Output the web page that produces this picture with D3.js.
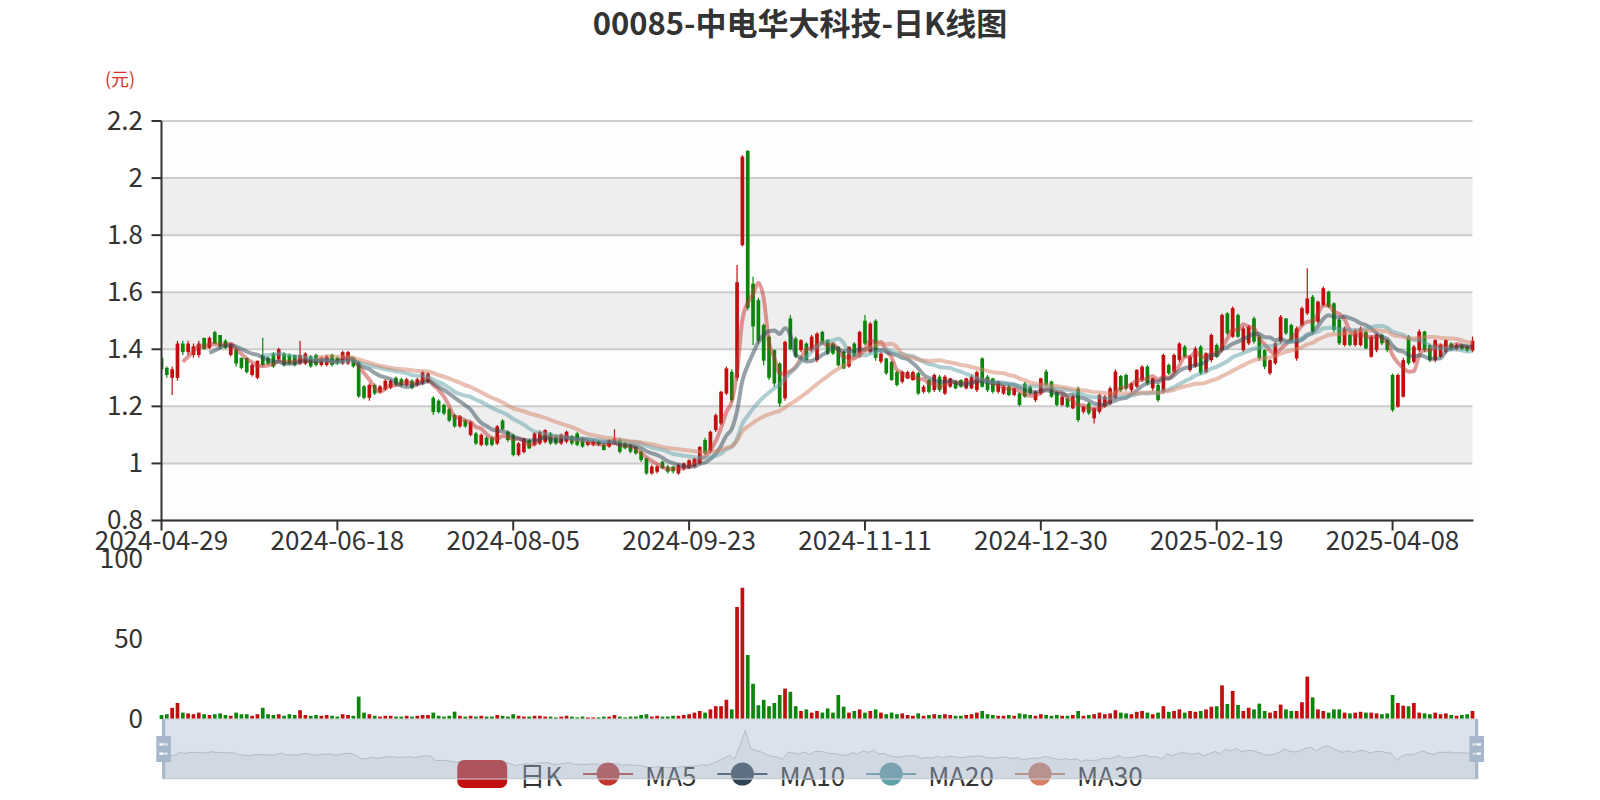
<!DOCTYPE html>
<html><head><meta charset="utf-8">
<script src="https://cdn.jsdelivr.net/npm/d3@7/dist/d3.min.js"></script>
<style>
body{margin:0;background:#fff;}
svg{display:block;font-family:"Noto Sans CJK SC","Noto Sans",sans-serif;}
</style>
</head><body>
<svg id="chart" width="1600" height="800"></svg>
<script>
const titleText = "00085-中电华大科技-日K线图";
const unitText = "(元)";
const dates = [
"2024-04-29","2024-04-30",
"2024-05-02","2024-05-03","2024-05-06","2024-05-07","2024-05-08","2024-05-09","2024-05-10","2024-05-13","2024-05-14","2024-05-16","2024-05-17","2024-05-20","2024-05-21","2024-05-22","2024-05-23","2024-05-24","2024-05-27","2024-05-28","2024-05-29","2024-05-30","2024-05-31",
"2024-06-03","2024-06-04","2024-06-05","2024-06-06","2024-06-07","2024-06-11","2024-06-12","2024-06-13","2024-06-14","2024-06-17","2024-06-18","2024-06-19","2024-06-20","2024-06-21","2024-06-24","2024-06-25","2024-06-26","2024-06-27","2024-06-28",
"2024-07-02","2024-07-03","2024-07-04","2024-07-05","2024-07-08","2024-07-09","2024-07-10","2024-07-11","2024-07-12","2024-07-15","2024-07-16","2024-07-17","2024-07-18","2024-07-19","2024-07-22","2024-07-23","2024-07-24","2024-07-25","2024-07-26","2024-07-29","2024-07-30","2024-07-31",
"2024-08-01","2024-08-02","2024-08-05","2024-08-06","2024-08-07","2024-08-08","2024-08-09","2024-08-12","2024-08-13","2024-08-14","2024-08-15","2024-08-16","2024-08-19","2024-08-20","2024-08-21","2024-08-22","2024-08-23","2024-08-26","2024-08-27","2024-08-28","2024-08-29","2024-08-30",
"2024-09-02","2024-09-03","2024-09-04","2024-09-05","2024-09-09","2024-09-10","2024-09-11","2024-09-12","2024-09-13","2024-09-16","2024-09-17","2024-09-19","2024-09-20","2024-09-23","2024-09-24","2024-09-25","2024-09-26","2024-09-27","2024-09-30",
"2024-10-02","2024-10-03","2024-10-04","2024-10-07","2024-10-08","2024-10-09","2024-10-10","2024-10-14","2024-10-15","2024-10-16","2024-10-17","2024-10-18","2024-10-21","2024-10-22","2024-10-23","2024-10-24","2024-10-25","2024-10-28","2024-10-29","2024-10-30","2024-10-31",
"2024-11-01","2024-11-04","2024-11-05","2024-11-06","2024-11-07","2024-11-08","2024-11-11","2024-11-12","2024-11-13","2024-11-14","2024-11-15","2024-11-18","2024-11-19","2024-11-20","2024-11-21","2024-11-22","2024-11-25","2024-11-26","2024-11-27","2024-11-28","2024-11-29",
"2024-12-02","2024-12-03","2024-12-04","2024-12-05","2024-12-06","2024-12-09","2024-12-10","2024-12-11","2024-12-12","2024-12-13","2024-12-16","2024-12-17","2024-12-18","2024-12-19","2024-12-20","2024-12-23","2024-12-24","2024-12-27","2024-12-30","2024-12-31",
"2025-01-02","2025-01-03","2025-01-06","2025-01-07","2025-01-08","2025-01-09","2025-01-10","2025-01-13","2025-01-14","2025-01-15","2025-01-16","2025-01-17","2025-01-20","2025-01-21","2025-01-22","2025-01-23","2025-01-24","2025-01-27","2025-01-28",
"2025-02-03","2025-02-04","2025-02-05","2025-02-06","2025-02-07","2025-02-10","2025-02-11","2025-02-12","2025-02-13","2025-02-14","2025-02-17","2025-02-18","2025-02-19","2025-02-20","2025-02-21","2025-02-24","2025-02-25","2025-02-26","2025-02-27","2025-02-28",
"2025-03-03","2025-03-04","2025-03-05","2025-03-06","2025-03-07","2025-03-10","2025-03-11","2025-03-12","2025-03-13","2025-03-14","2025-03-17","2025-03-18","2025-03-19","2025-03-20","2025-03-21","2025-03-24","2025-03-25","2025-03-26","2025-03-27","2025-03-28","2025-03-31",
"2025-04-01","2025-04-02","2025-04-03","2025-04-07","2025-04-08","2025-04-09","2025-04-10","2025-04-11","2025-04-14","2025-04-15","2025-04-16","2025-04-17","2025-04-22","2025-04-23","2025-04-24","2025-04-25","2025-04-28","2025-04-29","2025-04-30",
"2025-05-02"
];
// [open, close, low, high]
const ohlc = [
[1.37,1.33,1.32,1.38],[1.335,1.31,1.30,1.34],[1.30,1.33,1.24,1.34],[1.30,1.42,1.29,1.43],[1.42,1.39,1.38,1.43],
[1.39,1.42,1.38,1.43],[1.38,1.41,1.37,1.42],[1.38,1.42,1.37,1.43],[1.44,1.40,1.40,1.44],[1.405,1.44,1.40,1.445],
[1.46,1.42,1.42,1.465],[1.45,1.41,1.40,1.45],[1.43,1.405,1.40,1.435],[1.38,1.42,1.375,1.42],[1.40,1.35,1.34,1.40],
[1.37,1.335,1.33,1.37],[1.37,1.32,1.315,1.37],[1.31,1.345,1.305,1.35],[1.30,1.36,1.295,1.36],[1.38,1.345,1.34,1.44],
[1.37,1.35,1.345,1.375],[1.385,1.34,1.335,1.39],[1.365,1.40,1.36,1.405],[1.385,1.345,1.34,1.39],[1.38,1.35,1.345,1.385],
[1.38,1.345,1.34,1.38],[1.35,1.38,1.345,1.43],[1.35,1.385,1.345,1.39],[1.375,1.34,1.335,1.38],[1.38,1.345,1.34,1.385],
[1.345,1.37,1.34,1.375],[1.345,1.375,1.34,1.38],[1.38,1.345,1.34,1.385],[1.37,1.35,1.345,1.375],[1.35,1.39,1.345,1.395],
[1.35,1.39,1.345,1.395],[1.37,1.34,1.335,1.375],[1.355,1.235,1.23,1.36],[1.27,1.23,1.225,1.275],[1.23,1.275,1.22,1.28],
[1.275,1.245,1.24,1.28],[1.25,1.27,1.245,1.275],[1.26,1.29,1.255,1.295],[1.265,1.29,1.26,1.295],[1.30,1.275,1.27,1.305],
[1.295,1.275,1.27,1.30],[1.275,1.295,1.27,1.30],[1.29,1.265,1.26,1.295],[1.275,1.295,1.27,1.30],[1.28,1.32,1.275,1.325],
[1.285,1.315,1.28,1.32],[1.23,1.18,1.17,1.235],[1.22,1.18,1.175,1.225],[1.205,1.175,1.17,1.21],[1.19,1.15,1.145,1.195],
[1.17,1.13,1.125,1.175],[1.13,1.165,1.125,1.17],[1.15,1.13,1.125,1.155],[1.10,1.145,1.095,1.15],[1.105,1.07,1.065,1.11],
[1.065,1.10,1.06,1.105],[1.09,1.065,1.06,1.095],[1.09,1.065,1.06,1.095],[1.07,1.13,1.065,1.135],[1.15,1.12,1.115,1.155],
[1.11,1.082,1.075,1.115],[1.10,1.03,1.025,1.105],[1.03,1.07,1.025,1.075],[1.04,1.088,1.035,1.09],[1.082,1.053,1.05,1.085],
[1.065,1.105,1.06,1.11],[1.07,1.11,1.065,1.115],[1.075,1.117,1.07,1.12],[1.105,1.07,1.065,1.11],[1.094,1.07,1.065,1.10],
[1.07,1.10,1.065,1.105],[1.076,1.111,1.07,1.115],[1.094,1.07,1.065,1.10],[1.105,1.065,1.06,1.11],[1.088,1.059,1.055,1.09],
[1.065,1.076,1.06,1.08],[1.066,1.077,1.06,1.08],[1.076,1.065,1.06,1.08],[1.065,1.047,1.045,1.07],[1.059,1.082,1.055,1.085],
[1.07,1.088,1.065,1.12],[1.082,1.041,1.035,1.09],[1.07,1.053,1.05,1.075],[1.065,1.041,1.035,1.07],[1.059,1.035,1.03,1.06],
[1.041,1.012,1.005,1.045],[1.018,0.965,0.96,1.02],[0.965,0.989,0.96,0.995],[0.971,0.989,0.965,0.995],[1.006,0.983,0.98,1.01],
[0.989,0.971,0.965,0.995],[0.989,0.972,0.965,0.992],[0.965,0.995,0.96,1.0],[0.982,1.0,0.975,1.003],[0.985,1.011,0.98,1.015],
[0.99,1.017,0.985,1.02],[1.0,1.058,0.995,1.06],[1.082,1.035,1.03,1.09],[1.041,1.111,1.035,1.115],[1.117,1.169,1.11,1.175],
[1.14,1.251,1.135,1.255],[1.245,1.333,1.24,1.34],[1.321,1.222,1.215,1.33],[1.30,1.635,1.29,1.695],[1.765,2.075,1.76,2.08],
[2.095,1.545,1.537,2.098],[1.63,1.48,1.415,1.654],[1.572,1.43,1.42,1.58],[1.485,1.36,1.344,1.49],[1.444,1.30,1.292,1.45],
[1.397,1.28,1.268,1.40],[1.35,1.21,1.198,1.355],[1.228,1.426,1.22,1.43],[1.508,1.40,1.397,1.52],[1.438,1.374,1.37,1.445],
[1.397,1.432,1.39,1.435],[1.42,1.362,1.36,1.425],[1.397,1.444,1.39,1.45],[1.362,1.455,1.355,1.46],[1.461,1.42,1.415,1.465],
[1.432,1.385,1.38,1.435],[1.42,1.385,1.38,1.425],[1.409,1.344,1.34,1.41],[1.391,1.333,1.33,1.395],[1.34,1.409,1.335,1.41],
[1.42,1.374,1.37,1.425],[1.374,1.461,1.37,1.465],[1.50,1.42,1.415,1.52],[1.39,1.49,1.385,1.495],[1.50,1.37,1.36,1.505],
[1.357,1.385,1.35,1.39],[1.368,1.316,1.31,1.37],[1.356,1.292,1.29,1.36],[1.32,1.275,1.27,1.325],[1.286,1.32,1.28,1.325],
[1.298,1.32,1.295,1.325],[1.292,1.32,1.29,1.325],[1.316,1.245,1.24,1.32],[1.251,1.269,1.245,1.275],[1.292,1.251,1.245,1.295],
[1.257,1.31,1.25,1.315],[1.304,1.257,1.25,1.31],[1.245,1.304,1.24,1.31],[1.269,1.298,1.265,1.30],[1.286,1.263,1.26,1.29],
[1.292,1.269,1.265,1.295],[1.263,1.298,1.26,1.30],[1.263,1.304,1.26,1.31],[1.257,1.32,1.25,1.325],[1.368,1.269,1.265,1.372],
[1.304,1.257,1.25,1.31],[1.298,1.251,1.245,1.30],[1.251,1.286,1.245,1.29],[1.245,1.269,1.24,1.275],[1.269,1.24,1.235,1.275],
[1.24,1.263,1.235,1.265],[1.245,1.205,1.20,1.25],[1.28,1.234,1.23,1.285],[1.269,1.246,1.24,1.275],[1.222,1.252,1.215,1.255],
[1.246,1.298,1.24,1.30],[1.322,1.275,1.27,1.33],[1.287,1.234,1.23,1.29],[1.25,1.205,1.20,1.255],[1.205,1.234,1.20,1.24],
[1.228,1.199,1.195,1.23],[1.193,1.234,1.19,1.24],[1.263,1.152,1.145,1.27],[1.181,1.199,1.175,1.20],[1.21,1.176,1.17,1.215],
[1.158,1.193,1.14,1.195],[1.181,1.24,1.175,1.245],[1.199,1.234,1.195,1.24],[1.21,1.263,1.205,1.27],[1.228,1.322,1.225,1.33],
[1.306,1.257,1.25,1.31],[1.31,1.263,1.255,1.315],[1.257,1.28,1.25,1.285],[1.269,1.328,1.265,1.33],[1.292,1.339,1.285,1.345],
[1.339,1.281,1.275,1.345],[1.263,1.298,1.255,1.30],[1.275,1.222,1.215,1.28],[1.251,1.38,1.245,1.385],[1.345,1.316,1.31,1.35],
[1.322,1.38,1.315,1.385],[1.363,1.42,1.355,1.425],[1.409,1.374,1.37,1.415],[1.327,1.374,1.32,1.38],[1.339,1.403,1.335,1.41],
[1.409,1.316,1.31,1.415],[1.32,1.386,1.315,1.39],[1.362,1.45,1.355,1.455],[1.415,1.374,1.37,1.42],[1.397,1.52,1.39,1.525],
[1.526,1.456,1.45,1.53],[1.444,1.544,1.44,1.55],[1.52,1.444,1.44,1.525],[1.397,1.473,1.39,1.48],[1.421,1.479,1.415,1.485],
[1.508,1.427,1.42,1.515],[1.444,1.368,1.36,1.45],[1.397,1.339,1.33,1.40],[1.316,1.362,1.31,1.365],[1.351,1.421,1.345,1.425],
[1.427,1.514,1.42,1.52],[1.508,1.456,1.45,1.51],[1.485,1.432,1.425,1.49],[1.368,1.473,1.36,1.48],[1.485,1.544,1.48,1.55],
[1.526,1.578,1.52,1.684],[1.584,1.462,1.455,1.59],[1.497,1.567,1.49,1.57],[1.555,1.614,1.55,1.62],[1.602,1.549,1.545,1.605],
[1.561,1.468,1.46,1.565],[1.503,1.421,1.415,1.51],[1.415,1.473,1.41,1.48],[1.45,1.415,1.41,1.455],[1.415,1.468,1.41,1.47],
[1.415,1.473,1.41,1.48],[1.462,1.403,1.40,1.465],[1.374,1.444,1.37,1.45],[1.397,1.45,1.39,1.455],[1.45,1.421,1.415,1.455],
[1.432,1.397,1.39,1.435],[1.31,1.187,1.18,1.315],[1.199,1.31,1.195,1.315],[1.234,1.362,1.23,1.37],[1.444,1.351,1.345,1.45],
[1.356,1.409,1.35,1.415],[1.397,1.462,1.39,1.47],[1.462,1.397,1.39,1.465],[1.415,1.362,1.355,1.42],[1.362,1.432,1.355,1.435],
[1.374,1.415,1.37,1.42],[1.392,1.432,1.385,1.435],[1.42,1.40,1.395,1.425],[1.40,1.415,1.395,1.42],[1.415,1.40,1.395,1.42],
[1.41,1.395,1.39,1.415],[1.395,1.43,1.39,1.445]
];
const volumes = [
2.5,3,7,10,4,3.5,3,4,3,2.5,
3,3.5,2.5,2,4,3,3,2,3,7,
3,2.5,3,2,3,2.5,5.5,2.5,2,2.5,
2,2.5,2,1.5,3,2.5,2,14,4,3,
2,1.5,2,2,1.5,1.5,2,1.5,2,2.5,
2.5,4,2,1.5,2,4.6,2,1.5,2,1.5,
2,1.5,1.5,2.5,2,1.5,3,2,1.5,1.5,
2,2,1.5,1.5,1,1.5,2,1.5,1,1.5,
1,1,1,1.5,1.5,2.5,1.5,1,1.5,1.5,
2.5,3,1.5,2,1.5,1.5,2,2,2.5,3,
4,5,4,6,8,8,12,6,70,82,
40,22,8.6,12,8,10,15,19,17,8,
5,6,4,5,4,6.6,4,15,7.7,4,
5,6,4,5,6,4,3,4,3,3.5,
2.5,2,3.5,2,2.5,3,2.5,3,2.5,2,
2,2.5,3,4,5,3,2.5,2,2,2.5,
2,3.5,3,2.5,2,3,2.5,2,2.5,2,
2,2.5,5,2,2.5,3,4,3,3.5,5.5,
4,3.5,3,4.5,5,4,3,4,8,4.5,
5,6,4,5,4.5,5,6,7.7,8,21,
9.4,17.5,8.75,5,7,6,9.6,5,4,5,
9,6,5,5,10.5,26.5,13.5,6,5,4,
6,6,4,3.5,4,4.5,4,4,3.5,3,
3.5,15,10,8.3,8,10,4,3.5,3,4,
3,3.5,2.5,2,2.5,3,5
];
const priceTicks = [0.8,1,1.2,1.4,1.6,1.8,2,2.2];
const volumeTicks = [0,50,100];
const labelInterval = 33;
const maPeriods = [5,10,20,30];
const legendNames = ["日K","MA5","MA10","MA20","MA30"];

const upColor = "#c20e0e", downColor = "#0a870a";
const maColors = ["#c23531","#2f4554","#61a0a8","#d48265"];

const svg = d3.select("#chart");
const L = 161.5, R = 1472.5, T = 121, B = 520.5;
const VT = 559, VB = 719;
const n = dates.length;
const axisFont = 26;

const x = d3.scalePoint().domain(d3.range(n)).range([L, R]).padding(0);
const y = d3.scaleLinear().domain([0.8, 2.2]).range([B, T]);
const yv = d3.scaleLinear().domain([0, 100]).range([VB, VT]);

// title
svg.append("text").attr("x", 800).attr("y", 21).attr("text-anchor","middle").attr("dominant-baseline","central")
  .attr("font-size", 31).attr("font-weight","bold").attr("fill","#333").text(titleText);
svg.append("text").attr("x", 105).attr("y", 78).attr("dominant-baseline","central")
  .attr("font-size", 18).attr("fill","#d0322c").text(unitText);

// split area bands
const g = svg.append("g");
for (let k = 0; k < priceTicks.length - 1; k++) {
  const y0 = y(priceTicks[k+1]), y1 = y(priceTicks[k]);
  g.append("rect").attr("x", L).attr("y", y0).attr("width", R - L).attr("height", y1 - y0)
    .attr("fill", k % 2 === 0 ? "rgba(250,250,250,0.3)" : "rgba(200,200,200,0.3)");
}
priceTicks.forEach(v => {
  g.append("line").attr("x1", L).attr("x2", R).attr("y1", y(v)).attr("y2", y(v))
    .attr("stroke", "#ccc").attr("stroke-width", 2);
});

svg.append("defs").append("clipPath").attr("id","plotclip").append("rect")
  .attr("x", L).attr("y", T - 5).attr("width", R - L + 3).attr("height", B - T + 5);

const cw = 3.7;
const candles = svg.append("g").attr("clip-path","url(#plotclip)");
ohlc.forEach((d, i) => {
  const [o, c, lo, hi] = d;
  const col = c >= o ? upColor : downColor;
  const cx = x(i);
  candles.append("line").attr("x1", cx).attr("x2", cx).attr("y1", y(hi)).attr("y2", y(lo))
    .attr("stroke", col).attr("stroke-width", 1.2);
  const top = y(Math.max(o, c)), bot = y(Math.min(o, c));
  candles.append("rect").attr("x", cx - cw/2).attr("y", top).attr("width", cw)
    .attr("height", Math.max(1, bot - top)).attr("fill", col);
});

// moving averages
const closes = ohlc.map(d => d[1]);
maPeriods.forEach((p, k) => {
  const pts = [];
  for (let i = p - 1; i < n; i++) {
    pts.push([i, d3.mean(closes.slice(i - p + 1, i + 1))]);
  }
  const line = d3.line().x(d => x(d[0])).y(d => y(d[1])).curve(d3.curveMonotoneX);
  candles.append("path").attr("d", line(pts)).attr("fill","none")
    .attr("stroke", maColors[k]).attr("stroke-width", 4).attr("stroke-opacity", 0.5)
    .attr("stroke-linejoin","round");
});

// axes
const axisG = svg.append("g");
axisG.append("line").attr("x1", L).attr("x2", L).attr("y1", T).attr("y2", B).attr("stroke","#333").attr("stroke-width",2);
axisG.append("line").attr("x1", L - 1).attr("x2", R + 1).attr("y1", B).attr("y2", B).attr("stroke","#333").attr("stroke-width",2);
priceTicks.forEach(v => {
  axisG.append("line").attr("x1", L - 10).attr("x2", L).attr("y1", y(v)).attr("y2", y(v)).attr("stroke","#333").attr("stroke-width",2);
  axisG.append("text").attr("x", 143).attr("y", y(v)).attr("text-anchor","end").attr("dominant-baseline","central")
    .attr("dy","-0.1em").attr("font-size", axisFont).attr("fill","#333").text(String(v));
});
for (let i = 0; i < n; i += labelInterval) {
  const xx = x(i);
  axisG.append("line").attr("x1", xx).attr("x2", xx).attr("y1", B).attr("y2", B + 10).attr("stroke","#333").attr("stroke-width",2);
  axisG.append("text").attr("x", xx).attr("y", 541).attr("text-anchor","middle").attr("dominant-baseline","central")
    .attr("dy","-0.1em").attr("font-size", axisFont).attr("fill","#333").text(dates[i]);
}

// volume
const vg = svg.append("g");
volumes.forEach((v, i) => {
  const [o, c] = ohlc[i];
  vg.append("rect").attr("x", x(i) - cw/2).attr("y", yv(v)).attr("width", cw)
    .attr("height", VB - yv(v)).attr("fill", c >= o ? upColor : downColor);
});
volumeTicks.forEach(v => {
  vg.append("text").attr("x", 143).attr("y", yv(v)).attr("text-anchor","end").attr("dominant-baseline","central")
    .attr("dy","-0.1em").attr("font-size", axisFont).attr("fill","#333").text(String(v));
});

// legend
const lg = svg.append("g");
const legY = 774, iconW = 50, iconH = 28, gap = 21, tgap = 12;
const items = [];
let cursor = 0;
legendNames.forEach((name, k) => {
  const t = lg.append("text").attr("y", legY).attr("dominant-baseline","central").attr("font-size", 26)
    .attr("fill","#333").text(name);
  const tw = t.node().getComputedTextLength();
  items.push({name, t, tw, start: cursor});
  cursor += iconW + tgap + tw + gap;
});
const totalW = cursor - gap;
const lx0 = 800 - totalW / 2;
items.forEach((it, k) => {
  const sx = lx0 + it.start;
  if (k === 0) {
    lg.append("rect").attr("x", sx).attr("y", legY - iconH/2).attr("width", iconW).attr("height", iconH)
      .attr("rx", 7).attr("fill", upColor);
  } else {
    const col = maColors[k-1];
    lg.append("line").attr("x1", sx).attr("x2", sx + iconW).attr("y1", legY).attr("y2", legY)
      .attr("stroke", col).attr("stroke-width", 2);
    lg.append("circle").attr("cx", sx + iconW/2).attr("cy", legY).attr("r", 11.5).attr("fill", col);
  }
  it.t.attr("x", sx + iconW + tgap);
});

// data zoom slider
const sT = 719, sH = 60;
const sL = L + 2, sR = R + 4;
const zg = svg.append("g");
const cext = d3.extent(closes);
const off = (cext[1] - cext[0]) * 0.3;
const ys = d3.scaleLinear().domain([cext[0] - off, cext[1] + off]).range([sT + sH, sT]);
const xs = d3.scalePoint().domain(d3.range(n)).range([sL, sR]).padding(0);
const area = d3.area().x((d, i) => xs(i)).y0(sT + sH).y1(d => ys(d));
const sline = d3.line().x((d, i) => xs(i)).y(d => ys(d));
zg.append("rect").attr("x", sL).attr("y", sT).attr("width", sR - sL).attr("height", sH)
  .attr("fill","none").attr("stroke","#ddd").attr("stroke-width",1);
zg.append("path").attr("d", area(closes)).attr("fill","rgba(47,69,84,0.09)");
zg.append("path").attr("d", sline(closes)).attr("fill","none").attr("stroke","#2f4554").attr("stroke-opacity",0.3).attr("stroke-width",1);
zg.append("rect").attr("x", sL).attr("y", sT).attr("width", sR - sL).attr("height", sH)
  .attr("fill","rgba(167,183,204,0.4)");
const handlePath = "M8.2,13.6V3.9H6.3v9.7H3.1v14.9h3.3v9.7h1.8v-9.7h3.3V13.6H8.2z M9.7,24.4H4.8v-1.4h4.9V24.4z M9.7,19.1H4.8v-1.4h4.9V19.1z";
const hs = sH / 34.3;
[sL, sR].forEach(hx => {
  zg.append("path").attr("d", handlePath).attr("fill", "#a7b7cc").attr("fill-rule","evenodd")
    .attr("transform", `translate(${hx - 7.2*hs},${sT + sH/2 - 21.05*hs}) scale(${hs})`);
});
</script>
</body></html>
